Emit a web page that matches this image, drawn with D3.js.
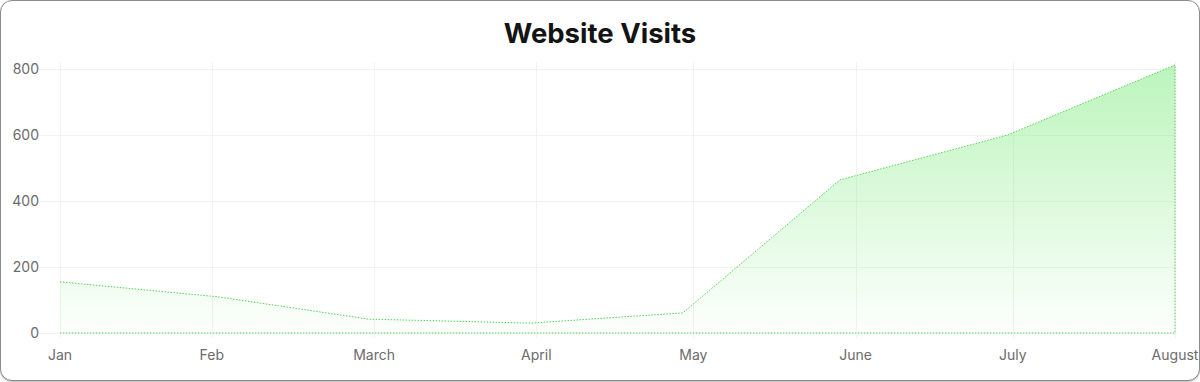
<!DOCTYPE html>
<html>
<head>
<meta charset="utf-8">
<script src="https://cdn.jsdelivr.net/npm/d3@7"></script>
<style>
  html, body { margin: 0; padding: 0; background: #fff; }
  .card {
    position: absolute; left: 0; top: 0;
    width: 1198px; height: 379px;
    border: 1px solid #8c8c8c; border-radius: 12px;
    box-shadow: 0 1px 1px rgba(0,0,0,0.25);
    overflow: hidden; background: #fff;
  }
  svg { display: block; font-family: Inter, "Noto Sans", sans-serif; }
</style>
</head>
<body>
<div class="card" id="chart"></div>
<script>
// month labels on the x axis and where they sit
var tickLabels = ['Jan', 'Feb', 'March', 'April', 'May', 'June', 'July', 'August'];
var tickDates = ['2024-01-01', '2024-01-30', '2024-03-01', '2024-04-01',
   '2024-05-01', '2024-06-01', '2024-07-01', '2024-08-01'];
// data points
var pointDates = ['2024-01-01', '2024-01-31', '2024-02-29', '2024-03-31',
   '2024-04-29', '2024-05-29', '2024-06-30', '2024-08-01'];
var visits = [155, 110, 42, 30, 61, 464, 600, 812];
var yTicks = [0, 200, 400, 600, 800];

var w = 1198;
var h = 379;
var parse = d3.timeParse('%Y-%m-%d');

var data = pointDates.map(function(d, i) {
   return { date: parse(d), value: visits[i] };
});

var x = d3.scaleTime()
   .domain([parse('2024-01-01'), parse('2024-08-01')])
   .range([59, 1174]);
var y = d3.scaleLinear()
   .domain([0, 800])
   .range([332, 68]);

var svg = d3.select('#chart')
   .append('svg')
   .attr('width', w)
   .attr('height', h);

// gradient for the area
var grad = svg.append('defs').append('linearGradient')
   .attr('id', 'fillGrad')
   .attr('gradientUnits', 'userSpaceOnUse')
   .attr('x1', 0).attr('x2', 0)
   .attr('y1', y(800)).attr('y2', y(0));
grad.append('stop').attr('offset', '0%')
   .attr('stop-color', '#90ee90').attr('stop-opacity', 0.6);
grad.append('stop').attr('offset', '100%')
   .attr('stop-color', '#90ee90').attr('stop-opacity', 0.02);

// title
svg.append('text')
   .attr('x', w / 2)
   .attr('y', 42)
   .attr('text-anchor', 'middle')
   .attr('font-size', '27.5px')
   .attr('font-weight', 700)
   .attr('fill', '#141414')
   .text('Website Visits');

// grid
svg.append('g')
   .selectAll('line')
   .data(yTicks)
   .enter()
   .append('line')
   .attr('x1', 38).attr('x2', 1176)
   .attr('y1', function(d) { return y(d) + 0.5; })
   .attr('y2', function(d) { return y(d) + 0.5; })
   .attr('stroke', '#f2f2f2');

svg.append('g')
   .selectAll('line')
   .data(tickDates)
   .enter()
   .append('line')
   .attr('x1', function(d) { return Math.round(x(parse(d))) + 0.5; })
   .attr('x2', function(d) { return Math.round(x(parse(d))) + 0.5; })
   .attr('y1', 61).attr('y2', 337)
   .attr('stroke', '#f2f2f2');

// area
var area = d3.area()
   .x(function(d) { return x(d.date); })
   .y0(y(0))
   .y1(function(d) { return y(d.value); });

svg.append('path')
   .datum(data)
   .attr('d', area)
   .attr('fill', 'url(#fillGrad)');

// outline: top, right edge, baseline (left edge left open)
svg.append('path')
   .datum(data)
   .attr('d', function(d) { return area(d).replace('Z', ''); })
   .attr('fill', 'none')
   .attr('stroke', '#55d455')
   .attr('stroke-width', 1)
   .attr('stroke-dasharray', '1.5 1.5');

// y labels
svg.append('g')
   .selectAll('text')
   .data(yTicks)
   .enter()
   .append('text')
   .attr('x', 38)
   .attr('y', function(d) { return y(d); })
   .attr('dy', '0.35em')
   .attr('text-anchor', 'end')
   .attr('font-size', '14px')
   .attr('fill', '#6b6b6b')
   .text(function(d) { return d; });

// x labels
svg.append('g')
   .selectAll('text')
   .data(tickDates)
   .enter()
   .append('text')
   .attr('x', function(d) { return x(parse(d)); })
   .attr('y', 354)
   .attr('dy', '0.35em')
   .attr('text-anchor', 'middle')
   .attr('font-size', '14px')
   .attr('fill', '#6b6b6b')
   .text(function(d, i) { return tickLabels[i]; });
</script>
</body>
</html>
